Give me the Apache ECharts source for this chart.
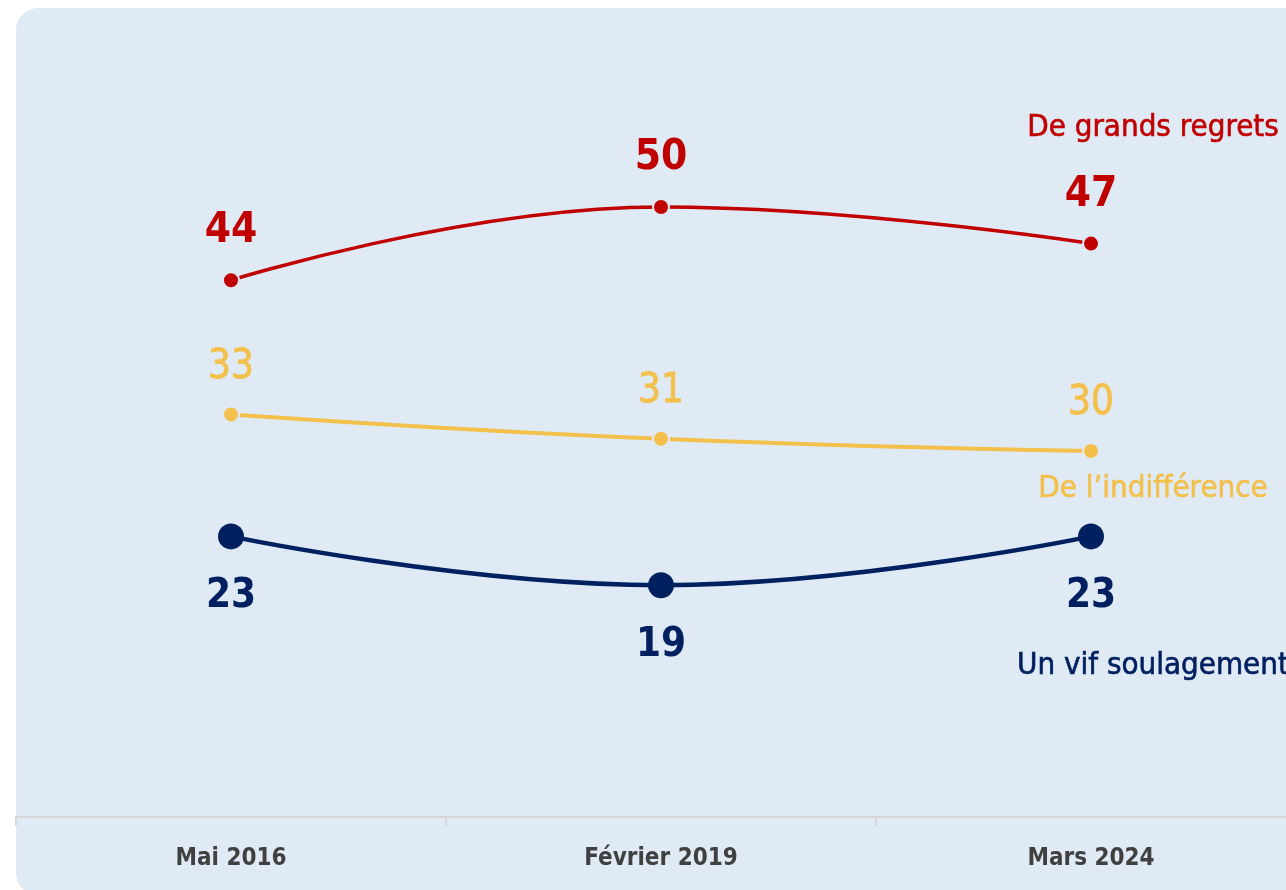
<!DOCTYPE html>
<html>
<head>
<meta charset="utf-8">
<script src="https://cdn.jsdelivr.net/npm/echarts@6/dist/echarts.min.js"></script>
<style>
  html, body { margin: 0; padding: 0; background: #ffffff; }
  #chart { width: 1286px; height: 890px; }
</style>
</head>
<body>
<div id="chart"></div>
<script>
// données
var categories = ['Mai 2016', 'Février 2019', 'Mars 2024'];
var regrets = [44, 50, 47];
var indifference = [33, 31, 30];
var soulagement = [23, 19, 23];
var seriesNames = ['De grands regrets', "De l\u2019indifférence", 'Un vif soulagement'];

var FONT = "'DejaVu Sans Condensed', 'Liberation Sans Narrow', Roboto, sans-serif";
var BG = '#dfeaf5';

var chart = echarts.init(document.getElementById('chart'));

// libellé de la série posé à côté du dernier point
function nameMark(name, values, offset, color) {
  return {
    symbol: 'circle',
    symbolSize: 1,
    silent: true,
    itemStyle: { color: 'rgba(0,0,0,0)' },
    data: [{
      coord: [categories[categories.length - 1], values[values.length - 1]],
      label: {
        show: true,
        formatter: name,
        position: 'inside',
        offset: offset,
        color: color,
        fontFamily: FONT,
        fontSize: 31,
        fontWeight: 'normal',
        textBorderColor: color,
        textBorderWidth: 0.6
      }
    }]
  };
}

var option = {
  backgroundColor: '#ffffff',
  animation: false,
  graphic: [{
    type: 'rect',
    z: -10,
    shape: { x: 16, y: 8, width: 1300, height: 887, r: 22 },
    style: { fill: BG }
  }],
  grid: { left: 16, top: 85, width: 1290, bottom: 73, outerBoundsMode: 'none', containLabel: false },
  xAxis: {
    type: 'category',
    data: categories,
    boundaryGap: true,
    axisLine: { lineStyle: { color: '#d6d6d6', width: 2 } },
    axisTick: { show: true, length: 9, lineStyle: { color: '#d6d6d6', width: 2 } },
    axisLabel: {
      color: '#404040',
      fontFamily: FONT,
      fontSize: 24,
      fontWeight: 'bold',
      margin: 30
    }
  },
  yAxis: {
    type: 'value',
    min: 0,
    max: 60,
    show: false,
    splitLine: { show: false }
  },
  series: [
    {
      name: seriesNames[0],
      type: 'line',
      data: regrets,
      smooth: 0.45,
      symbol: 'circle',
      symbolSize: 16,
      lineStyle: { color: '#c00000', width: 3.5 },
      itemStyle: { color: '#c00000', borderColor: BG, borderWidth: 2 },
      label: {
        show: true,
        position: 'inside',
        offset: [0, -49],
        color: '#c00000',
        fontFamily: FONT,
        fontSize: 42,
        fontWeight: 'bold'
      },
      markPoint: nameMark(seriesNames[0], regrets, [62, -116], '#c00000')
    },
    {
      name: seriesNames[1],
      type: 'line',
      data: indifference,
      smooth: 0.45,
      symbol: 'circle',
      symbolSize: 16,
      lineStyle: { color: '#f3c04b', width: 4 },
      itemStyle: { color: '#f3c04b', borderColor: BG, borderWidth: 2 },
      label: {
        show: true,
        position: 'inside',
        offset: [0, -47],
        color: '#f3c04b',
        fontFamily: FONT,
        fontSize: 40,
        fontWeight: 'normal',
        textBorderColor: '#f3c04b',
        textBorderWidth: 0.8
      },
      markPoint: nameMark(seriesNames[1], indifference, [62, 38], '#f3c04b')
    },
    {
      name: seriesNames[2],
      type: 'line',
      data: soulagement,
      smooth: 0.45,
      symbol: 'circle',
      symbolSize: 26,
      lineStyle: { color: '#002060', width: 4.5 },
      itemStyle: { color: '#002060' },
      label: {
        show: true,
        position: 'inside',
        offset: [0, 60],
        color: '#002060',
        fontFamily: FONT,
        fontSize: 40,
        fontWeight: 'bold'
      },
      markPoint: nameMark(seriesNames[2], soulagement, [62, 130], '#002060')
    }
  ]
};

chart.setOption(option);
</script>
</body>
</html>
